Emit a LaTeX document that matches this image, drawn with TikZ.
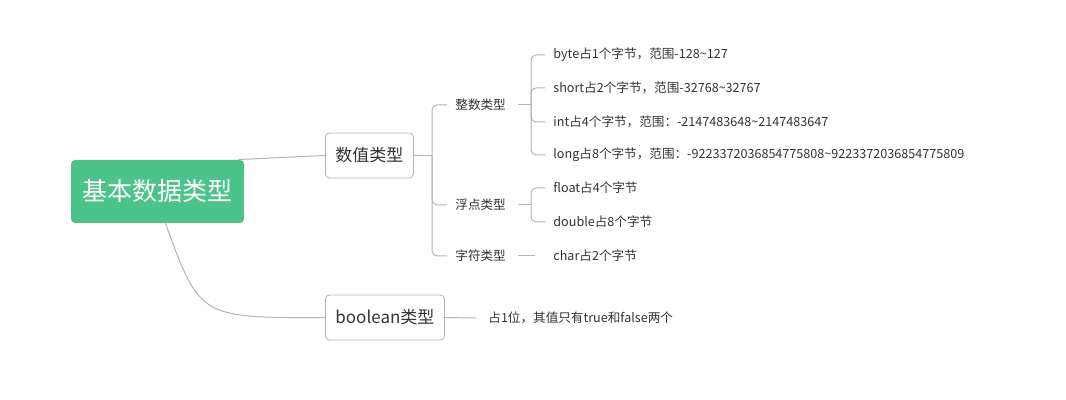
\documentclass[tikz,border=0pt]{standalone}
\usepackage{fontspec}
\setmainfont{Noto Sans CJK SC}
\usetikzlibrary{positioning}
\definecolor{rootgreen}{RGB}{76,195,138}
\definecolor{linegrey}{RGB}{180,180,180}
\definecolor{textgrey}{RGB}{51,51,51}
\tikzset{
  rootbox/.style={fill=rootgreen,rounded corners=2pt,text=white,minimum width=86.5pt,minimum height=31.5pt,font=\fontsize{12.5}{14}\selectfont},
  midbox/.style={draw=linegrey,rounded corners=2pt,text=textgrey,minimum height=22.5pt,inner xsep=5pt,font=\fontsize{8.5}{10}\selectfont},
  leaf/.style={text=textgrey,inner xsep=4pt,inner ysep=1pt,font=\fontsize{6.3}{8}\selectfont},
  link/.style={draw=linegrey,line width=0.5pt},
  bracket/.style={link,rounded corners=2.5pt}
}
\begin{document}
\begin{tikzpicture}[x=0.5pt,y=-0.5pt]
  \useasboundingbox (0,0) rectangle (1066,400);

  % root and second level
  \node[rootbox] (root) at (157.5,191.5) {基本数据类型};
  \node[midbox,anchor=west] (num) at (325,155.5) {数值类型};
  \node[midbox,anchor=west] (bool) at (325,317.5) {boolean类型};

  \draw[link] (root.north east) ++(-6,0) .. controls (290,157) .. (num.west);
  \draw[link] (root.south) ++(8,0) .. controls (200,318) .. (bool.west);

  % third level
  \coordinate (j1) at (432,155.5);
  \node[leaf,anchor=west] (int) at (447,105) {整数类型};
  \node[leaf,anchor=west] (flt) at (447,205) {浮点类型};
  \node[leaf,anchor=west] (chr) at (447,256) {字符类型};
  \draw[link] (num.east) -- (j1);
  \foreach \n in {int,flt,chr}
    \draw[bracket] (j1) |- (\n.west);

  % leaves of 整数类型
  \coordinate (j2) at (531,105);
  \node[leaf,anchor=west] (b) at (545,55) {byte占1个字节，范围-128\textasciitilde127};
  \node[leaf,anchor=west] (s) at (545,88) {short占2个字节，范围-32768\textasciitilde32767};
  \node[leaf,anchor=west] (i) at (545,122) {int占4个字节，范围：-2147483648\textasciitilde2147483647};
  \node[leaf,anchor=west] (l) at (545,155) {long占8个字节，范围：-9223372036854775808\textasciitilde9223372036854775809};
  \draw[link] (int.east) ++(4,0) -- (j2);
  \foreach \n in {b,s,i,l}
    \draw[bracket] (j2) |- (\n.west);

  % leaves of 浮点类型
  \coordinate (j3) at (531,205);
  \node[leaf,anchor=west] (f) at (545,188) {float占4个字节};
  \node[leaf,anchor=west] (d) at (545,222) {double占8个字节};
  \draw[link] (flt.east) ++(4,0) -- (j3);
  \foreach \n in {f,d}
    \draw[bracket] (j3) |- (\n.west);

  % leaf of 字符类型
  \node[leaf,anchor=west] (c) at (545,256) {char占2个字节};
  \draw[link] (chr.east) ++(4,0) -- ([xshift=-5pt]c.west);

  % leaf of boolean
  \node[leaf,anchor=west] (t) at (480,318) {占1位，其值只有true和false两个};
  \draw[link] (bool.east) -- ([xshift=-2pt]t.west);
\end{tikzpicture}
\end{document}
